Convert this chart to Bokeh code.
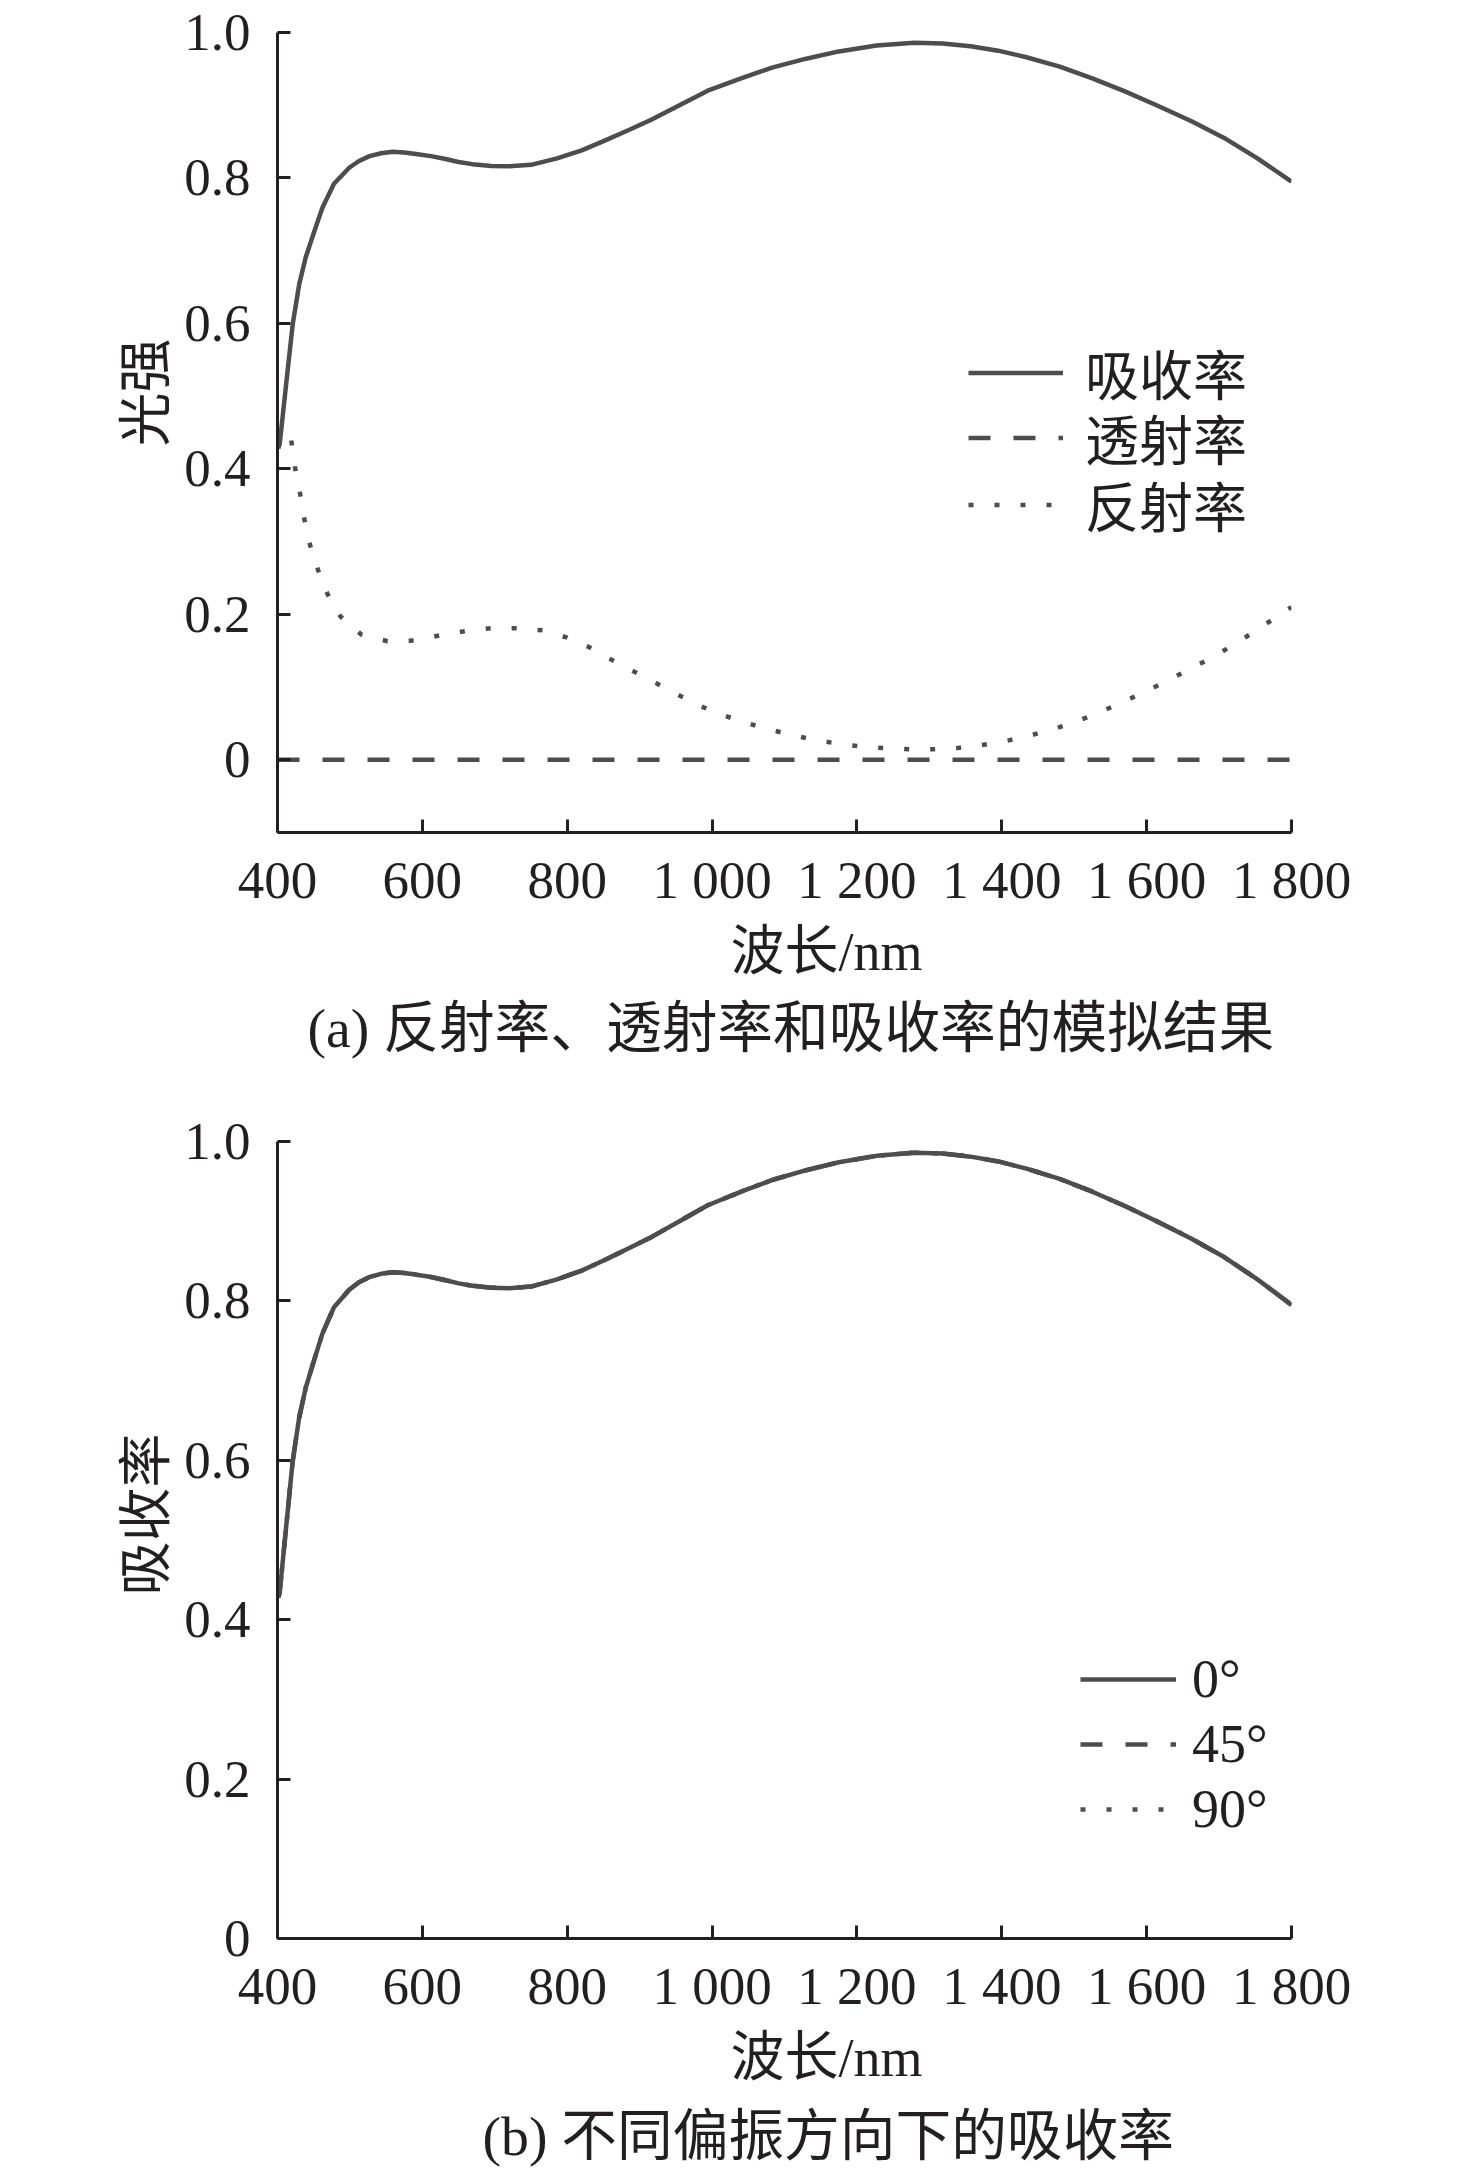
from bokeh.plotting import figure
from bokeh.models import Range1d, FixedTicker, Legend, LegendItem, Title
from bokeh.layouts import column
from bokeh.embed import file_html
from bokeh.resources import INLINE

# ---------------- data ----------------
wl_abs = [401, 403, 412, 421, 430, 439, 451, 462, 478, 499, 512, 527, 543, 559, 575, 591,
          612, 632, 650, 669, 695, 720, 750, 786, 820, 851, 885, 916, 955, 994, 1040,
          1084, 1130, 1175, 1227, 1279, 1318, 1357, 1395, 1434, 1480, 1525, 1570, 1616,
          1662, 1707, 1753, 1800]
absorb = [0.428, 0.434, 0.517, 0.599, 0.654, 0.691, 0.727, 0.759, 0.792, 0.814, 0.823,
          0.830, 0.834, 0.836, 0.835, 0.833, 0.830, 0.826, 0.822, 0.819, 0.8165, 0.816,
          0.818, 0.827, 0.838, 0.851, 0.866, 0.880, 0.900, 0.920, 0.937, 0.952, 0.964,
          0.974, 0.982, 0.986, 0.985, 0.981, 0.975, 0.966, 0.953, 0.937, 0.919, 0.899,
          0.878, 0.855, 0.827, 0.795]

wl_ref = [419, 424, 431, 437, 445, 456, 469, 487, 516, 552, 588, 624, 660, 696, 731,
          766, 800, 830, 851, 883, 916, 948, 981, 1013, 1046, 1078, 1110, 1143, 1175,
          1208, 1240, 1273, 1305, 1338, 1370, 1402, 1434, 1467, 1499, 1532, 1564, 1597,
          1629, 1662, 1695, 1747, 1800]
reflect = [0.439, 0.403, 0.367, 0.331, 0.295, 0.261, 0.228, 0.197, 0.172, 0.163, 0.164,
           0.171, 0.177, 0.181, 0.181, 0.178, 0.168, 0.155, 0.143, 0.126, 0.109, 0.092,
           0.075, 0.062, 0.051, 0.042, 0.034, 0.027, 0.022, 0.018, 0.016, 0.0145, 0.0145,
           0.016, 0.020, 0.025, 0.032, 0.041, 0.051, 0.064, 0.078, 0.093, 0.109, 0.126,
           0.143, 0.175, 0.210]

wl_trans = [400, 1800]
trans = [0.0, 0.0]

x_ticks = [400, 600, 800, 1000, 1200, 1400, 1600, 1800]
x_tick_labels = ["400", "600", "800", "1 000", "1 200", "1 400", "1 600", "1 800"]
y_ticks = [0, 0.2, 0.4, 0.6, 0.8, 1.0]
y_tick_labels = ["0", "0.2", "0.4", "0.6", "0.8", "1.0"]

legend_a = ["吸收率", "透射率", "反射率"]
legend_b = ["0°", "45°", "90°"]

# ---------------- styles ----------------
INK = "#231f20"
LINE = "#4d4d4d"
SERIF = "Liberation Serif, Noto Sans CJK SC"
NUM_SIZE = "53px"
CJK_SIZE = "54px"
CAP_SIZE = "55.7px"


def style_axes(p):
    p.xgrid.visible = False
    p.ygrid.visible = False
    p.outline_line_color = None
    p.xaxis.ticker = FixedTicker(ticks=x_ticks)
    p.xaxis.major_label_overrides = {t: l for t, l in zip(x_ticks, x_tick_labels)}
    p.yaxis.ticker = FixedTicker(ticks=y_ticks)
    p.yaxis.major_label_overrides = {t: l for t, l in zip(y_ticks, y_tick_labels)}
    for ax in (p.xaxis, p.yaxis):
        ax.axis_line_color = INK
        ax.axis_line_width = 3
        ax.major_tick_line_color = INK
        ax.major_tick_line_width = 3
        ax.major_tick_in = 13
        ax.major_tick_out = 0
        ax.minor_tick_in = 0
        ax.minor_tick_out = 0
        ax.minor_tick_line_color = None
        ax.major_label_text_font = "Liberation Serif"
        ax.major_label_text_font_size = NUM_SIZE
        ax.major_label_text_color = INK
    p.xaxis.major_label_standoff = 18
    p.yaxis.major_label_standoff = 27


def add_legend_row(p, label, renderer, vx, vy, gw, standoff, h):
    leg = Legend(items=[LegendItem(label=label, renderers=[renderer])], location=(vx, vy))
    leg.border_line_color = None
    leg.background_fill_alpha = 0
    leg.padding = 0
    leg.margin = 0
    leg.spacing = 0
    leg.glyph_width = gw
    leg.glyph_height = h
    leg.label_height = h
    leg.label_standoff = standoff
    leg.label_text_font = SERIF
    leg.label_text_font_size = CJK_SIZE
    leg.label_text_color = INK
    p.add_layout(leg)


def make_title(text, offset, standoff, size=CJK_SIZE):
    return Title(text=text, align="left", offset=offset, standoff=standoff,
                 text_font=SERIF, text_font_size=size, text_font_style="normal",
                 text_color=INK)


# ---------------- panel (a) ----------------
pa = figure(width=1460, height=1072, x_range=Range1d(400, 1800), y_range=Range1d(-0.1, 1.0),
            toolbar_location=None, output_backend="svg",
            min_border_left=277, min_border_right=169, min_border_top=32, min_border_bottom=240)
style_axes(pa)
ra1 = pa.line(wl_abs, absorb, line_color=LINE, line_width=4.5)
ra2 = pa.line(wl_trans, trans, line_color=LINE, line_width=4.5, line_dash="22 23")
ra3 = pa.line(wl_ref, reflect, line_color=LINE, line_width=4.5, line_dash="5 21")
add_legend_row(pa, legend_a[0], ra1, 691, 419, 95, 22, 81)
add_legend_row(pa, legend_a[1], ra2, 691, 354, 95, 22, 81)
add_legend_row(pa, legend_a[2], ra3, 691, 287, 95, 22, 81)
pa.add_layout(make_title("光强", 386, 10), "left")
pa.add_layout(make_title("波长/nm", 453, 17), "below")
pa.add_layout(make_title("(a) 反射率、透射率和吸收率的模拟结果", 30, 8, CAP_SIZE), "below")

# ---------------- panel (b) ----------------
pb = figure(width=1460, height=1100, x_range=Range1d(400, 1800), y_range=Range1d(0, 1.0),
            toolbar_location=None, output_backend="svg",
            min_border_left=277, min_border_right=169, min_border_top=69, min_border_bottom=233)
style_axes(pb)
rb1 = pb.line(wl_abs, absorb, line_color=LINE, line_width=4.5)
rb2 = pb.line(wl_abs, absorb, line_color=LINE, line_width=4.5, line_dash="22 23")
rb3 = pb.line(wl_abs, absorb, line_color=LINE, line_width=4.5, line_dash="5 21")
add_legend_row(pb, legend_b[0], rb1, 803, 227, 96, 16, 64)
add_legend_row(pb, legend_b[1], rb2, 803, 162, 96, 16, 64)
add_legend_row(pb, legend_b[2], rb3, 803, 97, 96, 16, 64)
pb.add_layout(make_title("吸收率", 343, 10), "left")
pb.add_layout(make_title("波长/nm", 453, 17), "below")
pb.add_layout(make_title("(b) 不同偏振方向下的吸收率", 205, 12, CAP_SIZE), "below")

layout = column(pa, pb)
open("out.html", "w").write(file_html(layout, INLINE))
